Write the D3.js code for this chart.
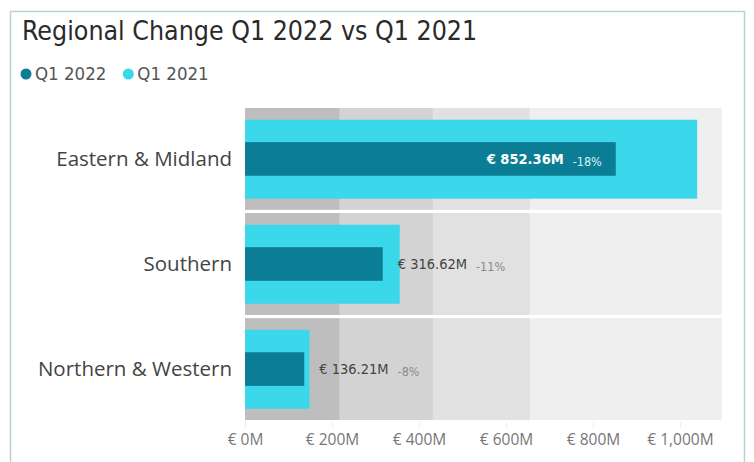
<!DOCTYPE html>
<html><head><meta charset="utf-8">
<script src="https://cdn.jsdelivr.net/npm/d3@7"></script>
<style>
html,body{margin:0;padding:0;background:#fff;}
svg{display:block;}
</style></head>
<body>
<svg id="chart" width="754" height="462"></svg>
<script>
const categories = ["Eastern & Midland", "Southern", "Northern & Western"];
const q12022 = [852.36, 316.62, 136.21];
const q12021 = [1039.5, 355.7, 148.1];
const changeLabels = ["-18%", "-11%", "-8%"];
const bandLimits = [218, 432, 655, 1096];
const tickValues = [0, 200, 400, 600, 800, 1000];
const seriesNames = ["Q1 2022", "Q1 2021"];
const titleText = "Regional Change Q1 2022 vs Q1 2021";

const svg = d3.select("#chart");
const m = {left: 245, right: 32, top: 108, bottom: 42};
const darkC = "#0b7e96", cyanC = "#3bd7ea";
const bandColors = ["#bebebe", "#d3d3d3", "#e1e1e1", "#efefef"];
const condensed = "'DejaVu Sans Condensed', sans-serif";

// card frame
svg.append("rect").attr("x", 10.5).attr("y", 11.5).attr("width", 734).attr("height", 470)
  .attr("fill", "#fff").attr("stroke", "#b7d2d2").attr("stroke-width", 1.5);

// title
svg.append("text").attr("x", 22).attr("y", 40).text(titleText)
  .attr("font-family", condensed).attr("font-size", 26.5)
  .attr("fill", "#2a2a2a");

// legend
const legend = svg.append("g");
let lx = 20;
seriesNames.forEach((s, i) => {
  legend.append("circle").attr("cx", lx + 6).attr("cy", 74).attr("r", 5.5)
    .attr("fill", i === 0 ? darkC : cyanC);
  const t = legend.append("text").attr("x", lx + 15).attr("y", 80).text(s)
    .attr("font-family", condensed).attr("font-size", 18.5).attr("fill", "#555");
  lx += 15 + t.node().getComputedTextLength() + 16;
});

const x = d3.scaleLinear().domain([0, 1000]).range([m.left, 680]);
const y = d3.scaleBand().domain(categories).range([m.top, 420]).paddingInner(0.03).paddingOuter(0);

const rows = svg.append("g").selectAll("g").data(categories).join("g");

// background bands
rows.each(function(c) {
  const g = d3.select(this);
  bandLimits.forEach((v, i) => {
    const x0 = x(i === 0 ? 0 : bandLimits[i - 1]);
    g.append("rect").attr("x", x0).attr("y", y(c))
      .attr("width", x(v) - x0).attr("height", y.bandwidth())
      .attr("fill", bandColors[i]);
  });
});

// Q1 2021 bars (wide)
const bw = y.bandwidth();
svg.append("g").selectAll("rect").data(categories).join("rect")
  .attr("x", x(0)).attr("y", (c) => y(c) + bw * 0.115)
  .attr("width", (c, i) => x(q12021[i]) - x(0)).attr("height", bw * 0.775)
  .attr("fill", cyanC);

// Q1 2022 bars (narrow)
svg.append("g").selectAll("rect").data(categories).join("rect")
  .attr("x", x(0)).attr("y", (c) => y(c) + bw * 0.335)
  .attr("width", (c, i) => x(q12022[i]) - x(0)).attr("height", bw * 0.33)
  .attr("fill", darkC);

// data labels
const fmt = (v) => "€ " + d3.format(",.2f")(v) + "M";
categories.forEach((c, i) => {
  const cy = y(c) + bw / 2;
  const inside = i === 0;
  const g = svg.append("g");
  const t1 = g.append("text").attr("y", cy + 5).text(fmt(q12022[i]))
    .attr("font-family", condensed).attr("font-size", 14.5)
    .attr("font-weight", inside ? "bold" : "normal")
    .attr("fill", inside ? "#ffffff" : "#444");
  const t2 = g.append("text").attr("y", cy + 7).text(changeLabels[i])
    .attr("font-family", condensed).attr("font-size", 12.5)
    .attr("fill", inside ? "#d8f2f6" : "#8a8a8a");
  const w1 = t1.node().getComputedTextLength();
  const w2 = t2.node().getComputedTextLength();
  let start;
  if (inside) start = x(q12022[i]) - 14 - w2 - 9 - w1;
  else start = x(q12022[i]) + 15;
  t1.attr("x", start);
  t2.attr("x", start + w1 + 9);
});

// category labels
svg.append("g").selectAll("text").data(categories).join("text")
  .attr("x", 232).attr("y", (c) => y(c) + bw / 2 + 7).attr("text-anchor", "end")
  .text((c) => c)
  .attr("font-family", "'Open Sans', sans-serif").attr("font-size", 20.5).attr("fill", "#444");

// x axis
const axis = d3.axisBottom(x).tickValues(tickValues).tickSize(0).tickPadding(12)
  .tickFormat((d) => "€ " + d3.format(",")(d) + "M");
const ag = svg.append("g").attr("transform", `translate(0,${422})`).call(axis);
ag.select(".domain").remove();
ag.selectAll("text").attr("font-family", "'Open Sans', sans-serif").attr("font-size", 15.5).attr("fill", "#777");
ag.selectAll(".tick").append("line").attr("y1", 0).attr("y2", 6).attr("stroke", "#eee");
</script>
</body></html>
